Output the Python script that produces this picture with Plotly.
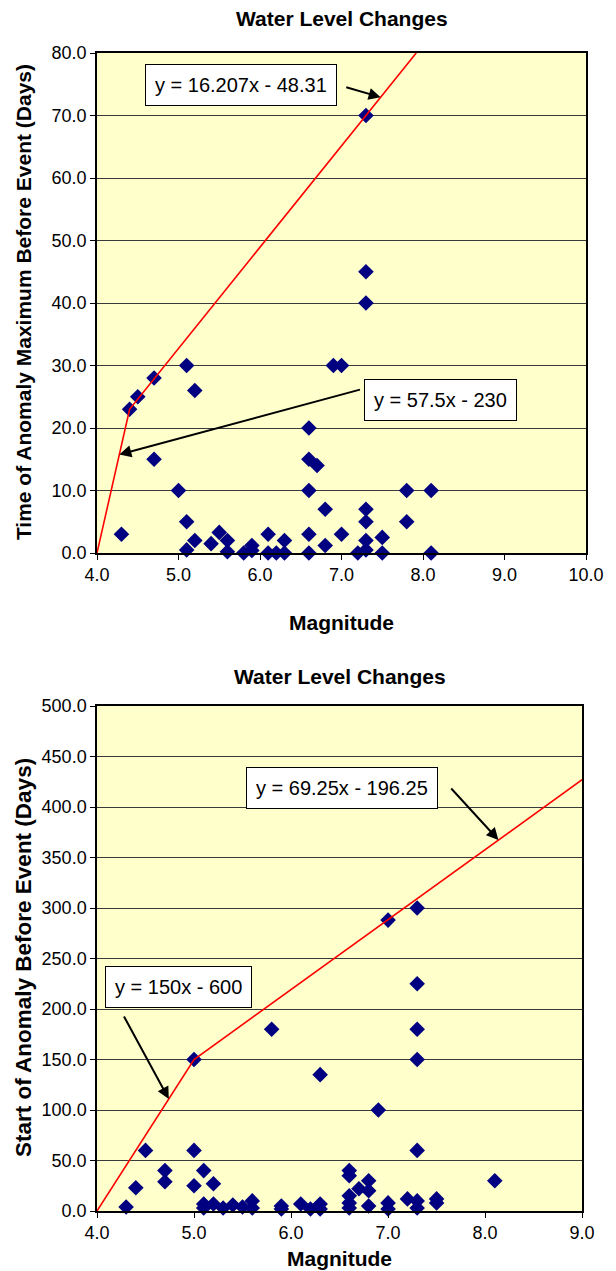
import plotly.graph_objects as go

# ---------------- data ----------------
# Top chart: time of anomaly maximum before event
mag_top = [4.3, 4.4, 4.5, 4.7, 4.7, 5.0, 5.1, 5.1, 5.1, 5.2, 5.2, 5.4, 5.5, 5.6, 5.6,
           5.8, 5.9, 5.9, 6.1, 6.1, 6.2, 6.3, 6.3, 6.6, 6.6, 6.6, 6.6, 6.6, 6.7, 6.8,
           6.8, 6.9, 7.0, 7.0, 7.2, 7.3, 7.3, 7.3, 7.3, 7.3, 7.3, 7.3, 7.5, 7.5, 7.8,
           7.8, 8.1, 8.1]
days_top = [3, 23, 25, 28, 15, 10, 30, 5, 0.5, 26, 2, 1.5, 3.3, 2, 0.2,
            0, 1.2, 0.4, 3, 0, 0, 2, 0, 20, 15, 10, 3, 0, 14, 7,
            1.2, 30, 30, 3, 0, 70, 45, 40, 7, 5, 2, 0.5, 2.5, 0, 10,
            5, 10, 0]

# Bottom chart: start of anomaly before event
mag_bot = [4.3, 4.4, 4.5, 4.7, 4.7, 5.0, 5.0, 5.0, 5.1, 5.1, 5.1, 5.2, 5.2, 5.3, 5.4,
           5.5, 5.6, 5.6, 5.8, 5.9, 5.9, 6.1, 6.2, 6.3, 6.3, 6.3, 6.6, 6.6, 6.6, 6.6,
           6.6, 6.7, 6.8, 6.8, 6.8, 6.9, 7.0, 7.0, 7.0, 7.2, 7.3, 7.3, 7.3, 7.3, 7.3,
           7.3, 7.3, 7.5, 7.5, 8.1]
days_bot = [4, 23, 60, 40, 29, 150, 60, 25, 40, 7, 3, 27, 7, 3, 6,
            4, 10, 3, 180, 5, 2, 7, 2, 135, 7, 2, 40, 35, 15, 8,
            3, 22, 30, 20, 5, 100, 288, 8, 2, 12, 300, 225, 180, 150, 60,
            10, 3, 12, 8, 30]

# Piecewise trend lines (slope, intercept)
top_fit_1 = (57.5, -230.0)
top_fit_2 = (16.207, -48.31)
bot_fit_1 = (150.0, -600.0)
bot_fit_2 = (69.25, -196.25)

x_ticks_top = [4.0, 5.0, 6.0, 7.0, 8.0, 9.0, 10.0]
y_ticks_top = [0, 10, 20, 30, 40, 50, 60, 70, 80]
x_ticks_bot = [4.0, 5.0, 6.0, 7.0, 8.0, 9.0]
y_ticks_bot = [0, 50, 100, 150, 200, 250, 300, 350, 400, 450, 500]

# ---------------- helpers ----------------
def f(fit, x):
    return fit[0] * x + fit[1]

def cross(a, b):
    return (b[1] - a[1]) / (a[0] - b[0])

t_x0 = -top_fit_1[1] / top_fit_1[0]
t_x1 = cross(top_fit_1, top_fit_2)
t_x2 = (80 - top_fit_2[1]) / top_fit_2[0]
top_line_x = [t_x0, t_x1, t_x2]
top_line_y = [f(top_fit_1, t_x0), f(top_fit_1, t_x1), f(top_fit_2, t_x2)]

b_x0 = -bot_fit_1[1] / bot_fit_1[0]
b_x1 = cross(bot_fit_1, bot_fit_2)
b_x2 = 9.0
bot_line_x = [b_x0, b_x1, b_x2]
bot_line_y = [f(bot_fit_1, b_x0), f(bot_fit_1, b_x1), f(bot_fit_2, b_x2)]

NAVY = "#000080"
RED = "#FF0000"
BG = "#FFFFCC"
GRID = "#3a3a3a"
FONT = "Liberation Sans, Arial, sans-serif"

fig = go.Figure()

fig.add_trace(go.Scatter(x=mag_top, y=days_top, mode="markers",
                         marker=dict(symbol="diamond", size=12, color=NAVY),
                         cliponaxis=False, xaxis="x", yaxis="y", showlegend=False))
fig.add_trace(go.Scatter(x=top_line_x, y=top_line_y, mode="lines",
                         line=dict(color=RED, width=1.6),
                         xaxis="x", yaxis="y", showlegend=False))
fig.add_trace(go.Scatter(x=mag_bot, y=days_bot, mode="markers",
                         marker=dict(symbol="diamond", size=12, color=NAVY),
                         cliponaxis=False, xaxis="x2", yaxis="y2", showlegend=False))
fig.add_trace(go.Scatter(x=bot_line_x, y=bot_line_y, mode="lines",
                         line=dict(color=RED, width=1.6),
                         xaxis="x2", yaxis="y2", showlegend=False))

# Geometry (pixels)
W, H = 616, 1271
ml, mr, mt, mb = 97, 16, 53, 60
ph = H - mt - mb
top_bottom_px = 553
bot_top_px = 706
bot_right_px = 596

axis_common = dict(showline=True, linecolor="#000000", linewidth=1.5, mirror=True,
                   ticks="outside", ticklen=5, tickcolor="#000000", tickwidth=1,
                   tickfont=dict(family=FONT, size=18, color="#000000"),
                   zeroline=False)

fig.update_layout(
    width=W, height=H,
    margin=dict(l=ml, r=mr, t=mt, b=mb),
    paper_bgcolor="white",
    plot_bgcolor=BG,
    font=dict(family=FONT, color="#000000"),
    xaxis=dict(domain=[0, 1], range=[4, 10], tickvals=x_ticks_top, tickformat=".1f",
               showgrid=False, anchor="y", **axis_common),
    yaxis=dict(domain=[(H - mb - top_bottom_px) / ph, 1], range=[0, 80],
               tickvals=y_ticks_top, tickformat=".1f",
               showgrid=True, gridcolor=GRID, gridwidth=1, anchor="x", **axis_common),
    xaxis2=dict(domain=[0, (bot_right_px - ml) / (W - ml - mr)], range=[4, 9],
                tickvals=x_ticks_bot, tickformat=".1f",
                showgrid=False, anchor="y2", **axis_common),
    yaxis2=dict(domain=[0, (H - mb - bot_top_px) / ph], range=[0, 500],
                tickvals=y_ticks_bot, tickformat=".1f",
                showgrid=True, gridcolor=GRID, gridwidth=1, anchor="x2", **axis_common),
)

def py(px):
    return (H - mb - px) / ph

def pxx(px):
    return (px - ml) / (W - ml - mr)

title_font = dict(family=FONT, size=21, color="#000000")
ann = []
ann.append(dict(text="<b>Water Level Changes</b>", x=pxx(349), y=py(19), xref="paper", yref="paper",
                showarrow=False, font=title_font, xanchor="center", yanchor="middle"))
ann.append(dict(text="<b>Water Level Changes</b>", x=pxx(347), y=py(676), xref="paper", yref="paper",
                showarrow=False, font=title_font, xanchor="center", yanchor="middle"))
ann.append(dict(text="<b>Magnitude</b>", x=pxx(348), y=py(622), xref="paper", yref="paper",
                showarrow=False, font=dict(family=FONT, size=21, color="#000000"),
                xanchor="center", yanchor="middle"))
ann.append(dict(text="<b>Magnitude</b>", x=pxx(346), y=py(1258), xref="paper", yref="paper",
                showarrow=False, font=dict(family=FONT, size=21, color="#000000"),
                xanchor="center", yanchor="middle"))
ann.append(dict(text="<b>Time of Anomaly Maximum Before Event (Days)</b>", x=pxx(21), y=py(302),
                xref="paper", yref="paper", showarrow=False, textangle=-90,
                font=dict(family=FONT, size=21, color="#000000"),
                xanchor="center", yanchor="middle"))
ann.append(dict(text="<b>Start of Anomaly Before Event (Days)</b>", x=pxx(21), y=py(958),
                xref="paper", yref="paper", showarrow=False, textangle=-90,
                font=dict(family=FONT, size=22.5, color="#000000"),
                xanchor="center", yanchor="middle"))

box_font = dict(family=FONT, size=20, color="#000000")
def eq_text(fit):
    a, b = fit
    return "y = %gx - %g" % (a, abs(b))

boxes = [
    (top_fit_2, 5.765, 74.9, "x", "y"),
    (top_fit_1, 8.21, 24.5, "x", "y"),
    (bot_fit_2, 6.525, 418.8, "x2", "y2"),
    (bot_fit_1, 4.837, 221.8, "x2", "y2"),
]
for fit, bx, by, xr, yr in boxes:
    ann.append(dict(text=eq_text(fit), x=bx, y=by, xref=xr, yref=yr, showarrow=False,
                    font=box_font, bgcolor="white", bordercolor="#000000", borderwidth=1,
                    borderpad=9, xanchor="center", yanchor="middle"))

arrows = [
    (top_fit_2, 7.48, 7.04, 74.6, "x", "y"),
    (top_fit_1, 4.274, 7.245, 26.2, "x", "y"),
    (bot_fit_2, 8.138, 7.637, 419.8, "x2", "y2"),
    (bot_fit_1, 4.74, 4.27, 194.0, "x2", "y2"),
]
for fit, xe, tx, ty, xr, yr in arrows:
    ann.append(dict(text="", x=xe, y=f(fit, xe), xref=xr, yref=yr,
                    ax=tx, ay=ty, axref=xr, ayref=yr, showarrow=True,
                    arrowhead=2, arrowsize=1.2, arrowwidth=2, arrowcolor="#000000",
                    standoff=0))

fig.update_layout(annotations=ann)

fig.write_html("out.html")
